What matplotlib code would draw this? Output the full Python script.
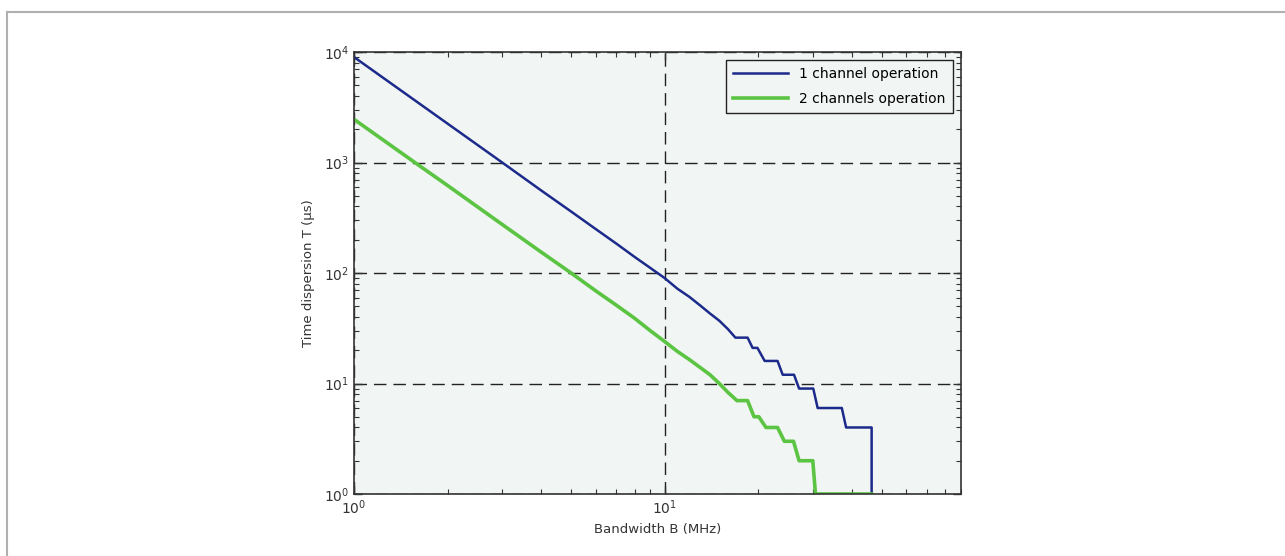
import matplotlib
matplotlib.use('Agg')
import matplotlib.pyplot as plt
from matplotlib.lines import Line2D
from matplotlib.ticker import LogLocator, NullFormatter

# values (bandwidth in MHz, dispersion in us)
b_one = [1, 1.5, 2, 3, 4, 5, 6, 7, 8, 9, 10, 11, 12, 13, 14, 15, 16, 16.9,
         18.5, 19.2, 19.9, 21.0, 23.1, 24.0, 26.1, 27.1, 30.1, 31.1, 37.2,
         38.4, 46.4, 46.4]
t_one = [9000, 4000, 2250, 1000, 560, 360, 250, 184, 140, 111, 90, 72, 61,
         51, 43, 37, 31, 26, 26, 21, 21, 16, 16, 12, 12, 9, 9, 6, 6, 4, 4, 1]

b_two = [1, 1.57, 2, 3, 4, 5, 6, 7, 8, 9, 10, 11, 12, 13, 14, 15, 16, 17.1,
         18.5, 19.4, 20.1, 21.2, 23.1, 24.3, 26.0, 27.1, 30.0, 30.6, 46.4]
t_two = [2460, 1000, 620, 275, 155, 100, 69, 51, 39, 30, 24, 19.5, 16.5,
         14, 12, 10, 8.3, 7, 7, 5, 5, 4, 4, 3, 3, 2, 2, 1, 1]

labels = ['1 channel operation', '2 channels operation']
colors = ['#1c2a8c', '#5cc443']

fig = plt.figure(figsize=(12.85, 5.56), dpi=100)
ax = fig.add_axes([354 / 1285, 1 - 494 / 556, 607 / 1285, 442 / 556])
ax.set_facecolor('#f1f5f3')

ax.plot(b_one, t_one, color=colors[0], lw=1.8, label=labels[0])
ax.plot(b_two, t_two, color=colors[1], lw=2.6, label=labels[1])

ax.set_xscale('log')
ax.set_yscale('log')
ax.set_xlim(1, 90)
ax.set_ylim(1, 1e4)

ax.xaxis.set_major_locator(LogLocator(base=10))
ax.yaxis.set_major_locator(LogLocator(base=10))
ax.xaxis.set_minor_locator(LogLocator(base=10, subs=range(2, 10)))
ax.yaxis.set_minor_locator(LogLocator(base=10, subs=range(2, 10)))
ax.xaxis.set_minor_formatter(NullFormatter())
ax.yaxis.set_minor_formatter(NullFormatter())

ax.grid(True, which='major', color='#222222', ls=(0, (9, 5)), lw=1.0)
ax.tick_params(which='both', direction='in', top=True, right=True,
               labelsize=10, colors='#333333', labelcolor='#333333')
ax.tick_params(which='major', length=6, width=1)
ax.tick_params(which='minor', length=3.5, width=0.8)
for s in ax.spines.values():
    s.set_color('#333333')
    s.set_linewidth(1.2)
    s.set_zorder(3)

ax.set_xlabel('Bandwidth B (MHz)', fontsize=9.5, color='#333333', labelpad=4)
ax.set_ylabel('Time dispersion T (µs)', fontsize=9.5, color='#333333', labelpad=6)

leg = ax.legend(loc='upper right', fontsize=10, fancybox=False,
                framealpha=1, edgecolor='#222222', facecolor='#f1f5f3',
                borderaxespad=0.6, handlelength=4, labelspacing=0.75,
                borderpad=0.5)
leg.get_frame().set_linewidth(1.0)

# thin frame at the top and the left of the picture
fig.add_artist(Line2D([7 / 1285, 1], [1 - 12 / 556, 1 - 12 / 556],
                      color='#b0b0b0', lw=1.5, transform=fig.transFigure))
fig.add_artist(Line2D([7 / 1285, 7 / 1285], [0, 1 - 12 / 556],
                      color='#b0b0b0', lw=1.5, transform=fig.transFigure))

fig.savefig('out.png', dpi=100, facecolor='white')
